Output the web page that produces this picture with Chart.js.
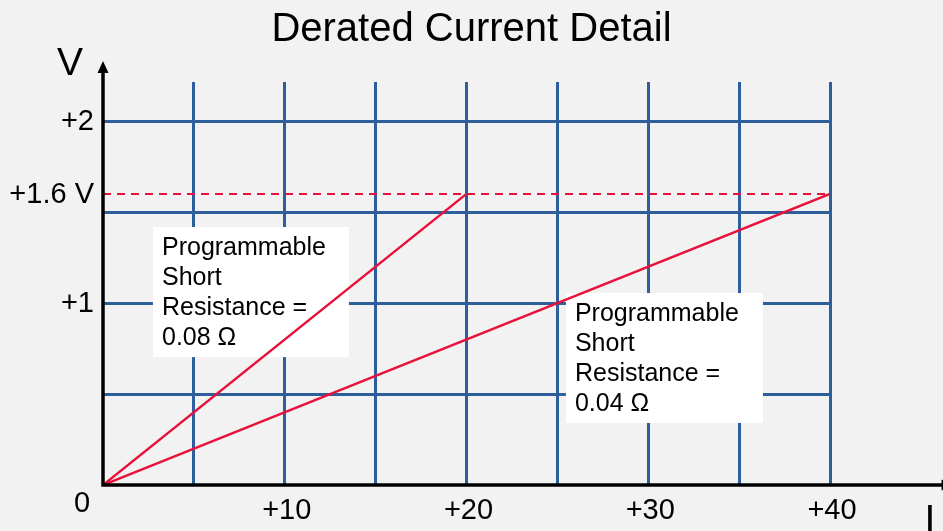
<!DOCTYPE html>
<html>
<head>
<meta charset="utf-8">
<title>Derated Current Detail</title>
<script src="https://cdn.jsdelivr.net/npm/chart.js@4.4.1/dist/chart.umd.min.js"></script>
<style>
  html, body { margin: 0; padding: 0; background: #f2f2f2; }
  #wrap { width: 943px; height: 531px; }
</style>
</head>
<body>
<div id="wrap"><canvas id="chart" width="943" height="531"></canvas></div>
<script>
// Grid positions (current I in A, voltage V)
const xGrid = [5, 10, 15, 20, 25, 30, 35, 40];
const yGrid = [0.5, 1, 1.5, 2];

// Tick labels
const xTicks = [10, 20, 30, 40];
const xTickLabels = ['+10', '+20', '+30', '+40'];
const yTicks = [1, 1.6, 2];
const yTickLabels = ['+1', '+1.6 V', '+2'];

// Series: 0.08 ohm and 0.04 ohm short resistance lines, 1.6 V limit
const shortA_I = [0, 20];
const shortA_V = [0, 1.6];
const shortB_I = [0, 40];
const shortB_V = [0, 1.6];
const limit_I = [0, 40];
const limit_V = [1.6, 1.6];

const noteA = ['Programmable', 'Short', 'Resistance =', '0.08 \u03A9'];
const noteB = ['Programmable', 'Short', 'Resistance =', '0.04 \u03A9'];

const FONT = "'Liberation Sans', Arial, Helvetica, sans-serif";
const RED = '#e8113a';
const BLUE = '#2e5e9c';

function toPoints(xs, ys) {
    return xs.map((x, i) => ({ x: x, y: ys[i] }));
}

// white note boxes, drawn over the grid but under the lines
const notesPlugin = {
    id: 'notes',
    beforeDatasetsDraw(chart) {
        const { ctx, scales: { x, y } } = chart;
        const boxes = [
            { x0: 2.75, y0: 1.418, x1: 13.53, y1: 0.703, lines: noteA },
            { x0: 25.47, y0: 1.055, x1: 36.31, y1: 0.341, lines: noteB }
        ];
        ctx.save();
        boxes.forEach(b => {
            const left = x.getPixelForValue(b.x0);
            const top = y.getPixelForValue(b.y0);
            const right = x.getPixelForValue(b.x1);
            const bottom = y.getPixelForValue(b.y1);
            ctx.fillStyle = '#ffffff';
            ctx.fillRect(left, top, right - left, bottom - top);
            ctx.fillStyle = '#000000';
            ctx.font = '25px ' + FONT;
            ctx.textAlign = 'left';
            ctx.textBaseline = 'alphabetic';
            b.lines.forEach((t, i) => {
                ctx.fillText(t, left + 9, top + 28 + i * 30);
            });
        });
        ctx.restore();
    }
};

// axes with arrows, tick labels and title
const axesPlugin = {
    id: 'axesDecor',
    afterDraw(chart) {
        const { ctx, scales: { x, y } } = chart;
        const x0 = x.getPixelForValue(0);
        const y0 = y.getPixelForValue(0);
        const yTop = y.getPixelForValue(2.33);
        const xEnd = x.getPixelForValue(46.8);
        ctx.save();
        ctx.strokeStyle = '#000000';
        ctx.fillStyle = '#000000';
        ctx.lineWidth = 3.5;
        ctx.beginPath();
        ctx.moveTo(x0, y0);
        ctx.lineTo(x0, yTop + 8);
        ctx.moveTo(x0 - 1.75, y0);
        ctx.lineTo(xEnd - 8, y0);
        ctx.stroke();
        // arrow heads
        ctx.beginPath();
        ctx.moveTo(x0, yTop);
        ctx.lineTo(x0 - 5.5, yTop + 12);
        ctx.lineTo(x0 + 5.5, yTop + 12);
        ctx.closePath();
        ctx.fill();
        ctx.beginPath();
        ctx.moveTo(xEnd, y0);
        ctx.lineTo(xEnd - 12, y0 - 5.5);
        ctx.lineTo(xEnd - 12, y0 + 5.5);
        ctx.closePath();
        ctx.fill();

        // tick labels
        ctx.font = '29px ' + FONT;
        ctx.textBaseline = 'middle';
        ctx.textAlign = 'center';
        xTicks.forEach((v, i) => {
            ctx.fillText(xTickLabels[i], x.getPixelForValue(v) + 2, y0 + 26);
        });
        ctx.textAlign = 'right';
        yTicks.forEach((v, i) => {
            ctx.fillText(yTickLabels[i], x0 - 9, y.getPixelForValue(v) + 1);
        });
        ctx.textAlign = 'center';
        ctx.fillText('0', x0 - 21, y0 + 19);

        // axis names
        ctx.font = '39px ' + FONT;
        ctx.fillText('V', x0 - 33, y.getPixelForValue(2.32) + 1);
        ctx.fillText('I', x.getPixelForValue(45.5), y0 + 36);

        // title
        ctx.font = '40px ' + FONT;
        ctx.fillText('Derated Current Detail', chart.width / 2, 30);
        ctx.restore();
    }
};

new Chart(document.getElementById('chart'), {
    type: 'scatter',
    data: {
        datasets: [
            {
                data: toPoints(shortA_I, shortA_V),
                showLine: true,
                borderColor: RED,
                borderWidth: 2.5,
                pointRadius: 0
            },
            {
                data: toPoints(shortB_I, shortB_V),
                showLine: true,
                borderColor: RED,
                borderWidth: 2.5,
                pointRadius: 0
            },
            {
                data: toPoints(limit_I, limit_V),
                showLine: true,
                borderColor: RED,
                borderWidth: 2,
                borderDash: [8, 6],
                pointRadius: 0
            }
        ]
    },
    options: {
        responsive: false,
        animation: false,
        layout: {
            autoPadding: false,
            padding: { left: 103, right: 113, top: 82, bottom: 46 }
        },
        plugins: {
            legend: { display: false },
            tooltip: { enabled: false },
            title: { display: false }
        },
        scales: {
            x: {
                type: 'linear',
                min: 0,
                max: 40,
                afterBuildTicks: (axis) => { axis.ticks = xGrid.map(v => ({ value: v })); },
                ticks: { display: false },
                border: { display: false },
                grid: { color: BLUE, lineWidth: 3, drawTicks: false }
            },
            y: {
                type: 'linear',
                min: 0,
                max: 2.215,
                afterBuildTicks: (axis) => { axis.ticks = yGrid.map(v => ({ value: v })); },
                ticks: { display: false },
                border: { display: false },
                grid: { color: BLUE, lineWidth: 3, drawTicks: false }
            }
        }
    },
    plugins: [notesPlugin, axesPlugin]
});
</script>
</body>
</html>
